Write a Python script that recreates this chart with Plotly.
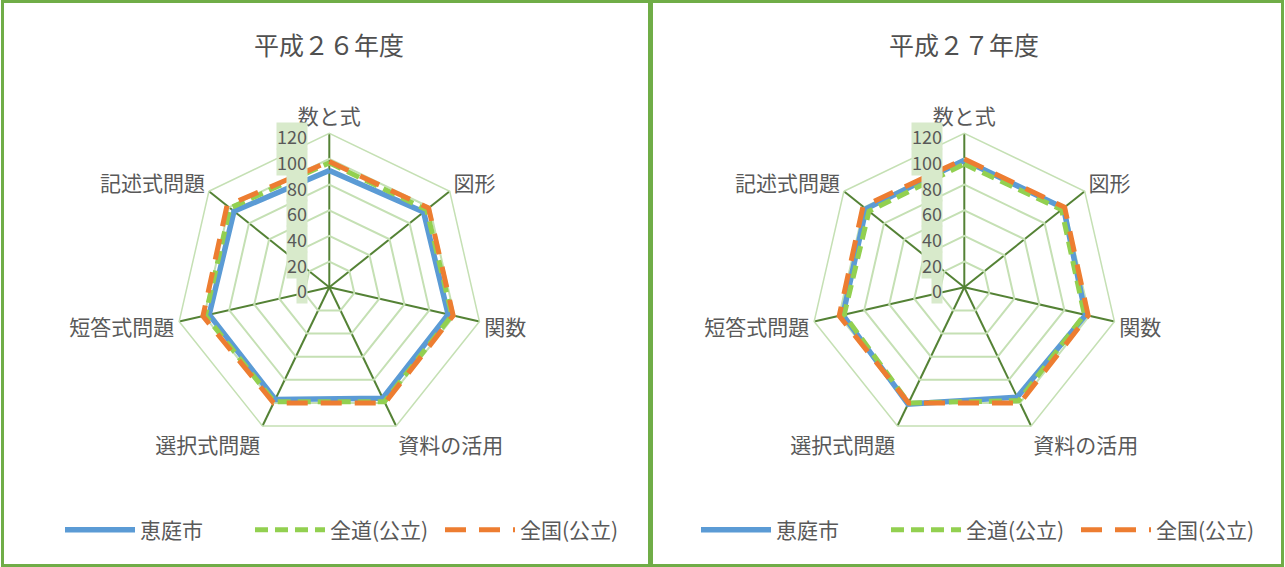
import plotly.graph_objects as go

# ---- data -------------------------------------------------------------
categories = ["数と式", "図形", "関数", "資料の活用", "選択式問題", "短答式問題", "記述式問題"]
years = ["平成２６年度", "平成２７年度"]
series_names = ["恵庭市", "全道(公立)", "全国(公立)"]

eniwa_h26 = [91, 94, 95, 96, 97, 96, 95]
zendo_h26 = [97, 97, 98, 99, 99, 99, 99]
zenkoku_h26 = [98, 99, 99, 100, 100, 101, 102]

eniwa_h27 = [99, 99, 97, 95, 101, 97, 98]
zendo_h27 = [96, 97, 96, 98, 100, 96, 95]
zenkoku_h27 = [100, 100, 99, 100, 100, 100, 101]

radial_ticks = [0, 20, 40, 60, 80, 100, 120]

# ---- styling ------------------------------------------------------------
W, H = 1285, 567
FONT = "Noto Sans CJK JP"
TEXT = "#595959"
COLORS = ["#5B9BD5", "#92D050", "#ED7D31"]
WIDTHS = [5.5, 5, 5]
DASHES = ["solid", "13px,7px", "21px,13px"]
R_PX = 154                      # radius of the 0-120 scale in pixels
CENTERS = [(329.3, 287.3), (964.3, 287.3)]
LEGEND_LEFT = [60, 696]
RMAX = radial_ticks[-1]

year_data = [
    [eniwa_h26, zendo_h26, zenkoku_h26],
    [eniwa_h27, zendo_h27, zenkoku_h27],
]

fig = go.Figure()
layout_extra = {}
annotations = []
shapes = []

for i, (year, series) in enumerate(zip(years, year_data)):
    polar_id = "polar" if i == 0 else f"polar{i + 1}"
    legend_id = "legend" if i == 0 else f"legend{i + 1}"
    cx, cy = CENTERS[i]

    for name, vals, color, width, dash in zip(series_names, series, COLORS, WIDTHS, DASHES):
        fig.add_trace(go.Scatterpolar(
            r=vals + vals[:1],
            theta=categories + categories[:1],
            mode="lines",
            name=name,
            line=dict(color=color, width=width, dash=dash),
            subplot=polar_id,
            legend=legend_id,
            hoverinfo="skip",
        ))

    layout_extra[polar_id] = dict(
        domain=dict(
            x=[(cx - R_PX) / W, (cx + R_PX) / W],
            y=[(H - cy - R_PX) / H, (H - cy + R_PX) / H],
        ),
        bgcolor="rgba(0,0,0,0)",
        gridshape="linear",
        angularaxis=dict(
            direction="clockwise",
            rotation=90,
            gridcolor="#548235",
            gridwidth=1.5,
            showline=True,
            linecolor="#C5E0B4",
            linewidth=1.5,
            ticks="",
            tickfont=dict(family=FONT, size=21, color=TEXT),
        ),
        radialaxis=dict(
            range=[0, RMAX],
            tickvals=radial_ticks,
            showticklabels=False,
            ticks="",
            showline=False,
            gridcolor="#C5E0B4",
            gridwidth=1.5,
        ),
    )

    layout_extra[legend_id] = dict(
        orientation="h",
        x=LEGEND_LEFT[i] / W,
        xanchor="left",
        y=1 - 530 / H,
        yanchor="middle",
        font=dict(family=FONT, size=21, color=TEXT),
        itemwidth=70,
        entrywidth=105,
        bgcolor="rgba(0,0,0,0)",
    )

    # chart title
    annotations.append(dict(
        text=year, x=cx / W, y=1 - 44 / H, xref="paper", yref="paper",
        xanchor="center", yanchor="middle", showarrow=False,
        font=dict(family=FONT, size=25, color="#505050"),
    ))

    # radial scale labels with tinted background, just left of the vertical spoke
    for t in radial_ticks:
        annotations.append(dict(
            text=str(t),
            x=(cx - 21) / W,
            y=1 - (cy - t * R_PX / RMAX) / H,
            xref="paper", yref="paper",
            xanchor="right", yanchor="middle", showarrow=False,
            yshift=-3,
            font=dict(family=FONT, size=18, color=TEXT),
            bgcolor="#D8EACB", borderpad=0,
        ))

# panel frames
for x0, x1 in [(2.5, 649.5), (651.5, 1282.5)]:
    shapes.append(dict(
        type="rect", xref="paper", yref="paper",
        x0=x0 / W, x1=x1 / W, y0=1.5 / H, y1=1 - 1.5 / H,
        line=dict(color="#70AD47", width=3), fillcolor="rgba(0,0,0,0)",
    ))

fig.update_layout(
    width=W, height=H,
    margin=dict(l=0, r=0, t=0, b=0),
    paper_bgcolor="white",
    font=dict(family=FONT, color=TEXT),
    annotations=annotations,
    shapes=shapes,
    **layout_extra,
)

fig.write_html("out.html")
